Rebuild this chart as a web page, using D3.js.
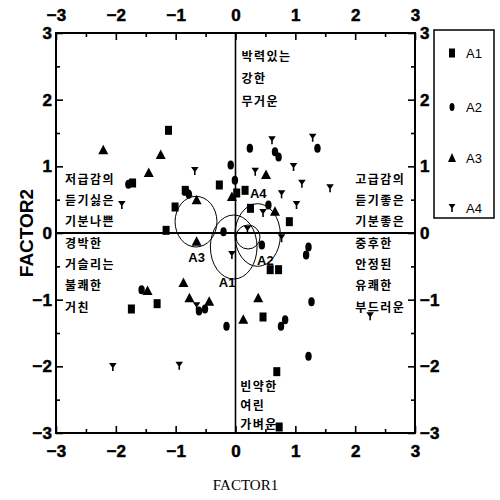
<!DOCTYPE html>
<html>
<head>
<meta charset="utf-8">
<script src="https://cdn.jsdelivr.net/npm/d3@7"></script>
<style>
  html, body { margin: 0; padding: 0; background: #fff; }
  svg { display: block; }
</style>
</head>
<body>
<script>
// Factor scores per group: [FACTOR1, FACTOR2]
const a1 = [[-1.12,1.54],[-0.84,0.64],[-1.01,0.39],[-0.27,0.72],[0.02,0.60],[-1.16,0.04],
  [0.16,0.64],[0.25,0.37],[0.90,0.17],[0.58,-0.55],[0.72,-0.55],[0.46,-1.26],[0.69,-2.08],
  [0.73,-2.91],[-1.74,-1.14],[-1.31,-1.06],[-1.72,0.75]];
const a2 = [[-1.79,0.73],[-0.08,1.02],[-0.01,0.79],[-0.20,0.02],[0.24,1.27],[0.66,1.22],
  [0.72,1.14],[1.37,1.27],[0.55,0.42],[1.22,-0.21],[1.18,-0.33],[0.44,-0.18],[1.27,-1.03],
  [0.83,-1.30],[0.76,-1.40],[1.22,-1.85],[-1.57,-0.85],[-0.61,-1.17],[-0.51,-1.14],
  [-0.15,-1.40],[-0.78,0.58]];
const a3 = [[-2.21,1.24],[-1.25,1.17],[-1.45,0.90],[-0.65,0.49],[-0.80,0.62],[-0.06,0.54],
  [0.51,0.87],[0.66,0.32],[-0.65,-0.13],[-0.87,-0.75],[-1.47,-0.87],[-0.77,-0.98],
  [-0.44,-1.03],[0.38,-0.98],[0.13,-1.30]];
const a4 = [[-0.68,0.93],[-1.90,0.42],[0.61,1.39],[1.29,1.43],[0.33,0.92],[0.97,0.99],
  [1.11,0.74],[1.58,0.67],[0.77,0.58],[1.02,0.42],[0.46,0.30],[0.77,-0.08],[2.25,-1.25],
  [-2.05,-2.01],[-0.94,-1.99],[-0.65,-1.10],[-0.06,-0.33],[0.20,0.05]];

// Group regions: centre, radii (factor units) and label anchor
const groupNames = ["A1","A2","A3","A4"];
const regionCx = [-0.03, 0.37, -0.66, 0.21];
const regionCy = [-0.21, -0.03, 0.17, -0.06];
const regionRx = [0.39, 0.38, 0.35, 0.2];
const regionRy = [0.48, 0.47, 0.38, 0.18];
const labelX = [-0.14, 0.50, -0.65, 0.38];
const labelY = [-0.74, -0.41, -0.36, 0.60];

// Adjective words for each pole
const wordsLeft = ["저급감의","듣기싫은","기분나쁜","경박한","거슬리는","불쾌한","거친"];
const wordsRight = ["고급감의","듣기좋은","기분좋은","중후한","안정된","유쾌한","부드러운"];
const wordsTop = ["박력있는","강한","무거운"];
const wordsBottom = ["빈약한","여린","가벼운"];

const tickValues = [-3,-2,-1,0,1,2,3];
const minorTicks = [-2.5,-1.5,-0.5,0.5,1.5,2.5];

const W = 500, H = 500;
const svg = d3.select("body").append("svg").attr("width", W).attr("height", H);

const x = d3.scaleLinear().domain([-3,3]).range([56,415]);
const y = d3.scaleLinear().domain([-3,3]).range([433,33]);

const axisFont = "'Liberation Sans', Arial, sans-serif";

function styleAxis(g) {
  g.select(".domain").remove();
  g.attr("font-family", null).attr("font-size", null);
  g.selectAll(".tick line").attr("stroke","#000").attr("stroke-width",1.6);
  g.selectAll("text")
    .style("font-family",axisFont).style("font-weight","900")
    .style("font-size","17px").style("fill","#000")
    .style("stroke","#000").style("stroke-width","0.5px");
}

// major ticks with labels, minor ticks without, all pointing inward
svg.append("g").attr("transform",`translate(0,${y(3)})`)
  .call(d3.axisTop(x).tickValues(tickValues).tickSize(-7).tickPadding(12).tickFormat(d3.format("d"))).call(styleAxis);
svg.append("g").attr("transform",`translate(0,${y(-3)})`)
  .call(d3.axisBottom(x).tickValues(tickValues).tickSize(-7).tickPadding(12).tickFormat(d3.format("d"))).call(styleAxis);
svg.append("g").attr("transform",`translate(${x(-3)},0)`)
  .call(d3.axisLeft(y).tickValues(tickValues).tickSize(-7).tickPadding(4).tickFormat(d3.format("d"))).call(styleAxis);
svg.append("g").attr("transform",`translate(${x(3)},0)`)
  .call(d3.axisRight(y).tickValues(tickValues).tickSize(-7).tickPadding(5).tickFormat(d3.format("d"))).call(styleAxis);

svg.append("g").attr("transform",`translate(0,${y(3)})`)
  .call(d3.axisTop(x).tickValues(minorTicks).tickSize(-4).tickFormat("")).call(styleAxis);
svg.append("g").attr("transform",`translate(0,${y(-3)})`)
  .call(d3.axisBottom(x).tickValues(minorTicks).tickSize(-4).tickFormat("")).call(styleAxis);
svg.append("g").attr("transform",`translate(${x(-3)},0)`)
  .call(d3.axisLeft(y).tickValues(minorTicks).tickSize(-4).tickFormat("")).call(styleAxis);
svg.append("g").attr("transform",`translate(${x(3)},0)`)
  .call(d3.axisRight(y).tickValues(minorTicks).tickSize(-4).tickFormat("")).call(styleAxis);

// frame
svg.append("rect").attr("x",x(-3)).attr("y",y(3))
  .attr("width",x(3)-x(-3)).attr("height",y(-3)-y(3))
  .attr("fill","none").attr("stroke","#000").attr("stroke-width",2);

// zero cross lines
svg.append("line").attr("x1",x(-3)).attr("x2",x(3)).attr("y1",y(0)).attr("y2",y(0))
  .attr("stroke","#000").attr("stroke-width",2);
svg.append("line").attr("x1",x(0)).attr("x2",x(0)).attr("y1",y(3)).attr("y2",y(-3))
  .attr("stroke","#000").attr("stroke-width",1.6);

// pole words
const wordFont = "'Noto Sans CJK KR', sans-serif";
function words(list, px, py0, step) {
  svg.append("g").selectAll("text").data(list).join("text")
    .attr("x", px).attr("y", (d,i) => py0 + i*step)
    .attr("font-family", wordFont).attr("font-size", 12).attr("font-weight","bold")
    .attr("letter-spacing", 1.5).attr("dominant-baseline","central").attr("fill","#000")
    .text(d => d);
}
words(wordsLeft, x(-2.85), y(0.82), 21.3);
words(wordsRight, x(2.0), y(0.82), 21.3);
words(wordsTop, x(0.1), y(2.67), 22.5);
words(wordsBottom, x(0.08), y(-2.28), 19);

// group regions
const regions = groupNames.map((n,i) => ({n, cx:regionCx[i], cy:regionCy[i], rx:regionRx[i], ry:regionRy[i], lx:labelX[i], ly:labelY[i]}));
svg.append("g").selectAll("ellipse").data(regions).join("ellipse")
  .attr("cx", d => x(d.cx)).attr("cy", d => y(d.cy))
  .attr("rx", d => x(d.cx + d.rx) - x(d.cx)).attr("ry", d => y(d.cy - d.ry) - y(d.cy))
  .attr("fill","none").attr("stroke","#000").attr("stroke-width",1);

// markers
function drawSquares(g, data, w, h) {
  g.selectAll("rect").data(data).join("rect")
    .attr("x", d => x(d[0]) - w/2).attr("y", d => y(d[1]) - h/2)
    .attr("width", w).attr("height", h).attr("fill","#000");
}
function drawOvals(g, data) {
  g.selectAll("ellipse").data(data).join("ellipse")
    .attr("cx", d => x(d[0])).attr("cy", d => y(d[1]))
    .attr("rx", 3.2).attr("ry", 4.5).attr("fill","#000");
}
function drawTriangles(g, data) {
  g.selectAll("path").data(data).join("path")
    .attr("d", d => { const cx = x(d[0]), cy = y(d[1]);
      return `M${cx},${cy-5.5}L${cx+5},${cy+4}L${cx-5},${cy+4}Z`; })
    .attr("fill","#000");
}
function drawDownTriangles(g, data) {
  g.selectAll("path").data(data).join("path")
    .attr("d", d => { const cx = x(d[0]), cy = y(d[1]);
      return `M${cx-3.8},${cy-4}L${cx+3.8},${cy-4}L${cx},${cy+1.5}Z M${cx-0.8},${cy}h1.6v4h-1.6Z`; })
    .attr("fill","#000");
}

drawSquares(svg.append("g"), a1, 7, 9);
drawOvals(svg.append("g"), a2);
drawTriangles(svg.append("g"), a3);
drawDownTriangles(svg.append("g"), a4);

// region labels
svg.append("g").selectAll("text").data(regions).join("text")
  .attr("x", d => x(d.lx)).attr("y", d => y(d.ly))
  .attr("text-anchor","middle").attr("dominant-baseline","central")
  .attr("font-family",axisFont).attr("font-weight","bold").attr("font-size",13)
  .text(d => d.n);

// axis titles
svg.append("text").attr("x", (x(-3)+x(3))/2 + 10).attr("y", 490)
  .attr("text-anchor","middle").attr("font-family","'Liberation Serif', 'Times New Roman', serif")
  .attr("font-size",15).text("FACTOR1");
svg.append("text").attr("transform",`translate(26,${y(0)}) rotate(-90)`)
  .attr("text-anchor","middle").attr("dominant-baseline","central")
  .attr("font-family",axisFont).attr("font-weight","bold").attr("font-size",19)
  .text("FACTOR2");

// legend
const legend = svg.append("g");
legend.append("rect").attr("x",434).attr("y",30).attr("width",60).attr("height",188)
  .attr("fill","#fff").attr("stroke","#000").attr("stroke-width",1.5);
const legendY = [53, 107, 158, 208];
const lx = 452;
legend.append("rect").attr("x",lx-3).attr("y",legendY[0]-4.5).attr("width",6).attr("height",9).attr("fill","#000");
legend.append("ellipse").attr("cx",lx).attr("cy",legendY[1]).attr("rx",2.5).attr("ry",4).attr("fill","#000");
legend.append("path").attr("d",`M${lx},${legendY[2]-5}L${lx+4},${legendY[2]+4}L${lx-4},${legendY[2]+4}Z`).attr("fill","#000");
legend.append("path").attr("d",`M${lx-3.5},${legendY[3]-4}L${lx+3.5},${legendY[3]-4}L${lx},${legendY[3]+1}Z M${lx-0.8},${legendY[3]}h1.6v4h-1.6Z`).attr("fill","#000");
legend.selectAll("text.lg").data(groupNames).join("text").attr("class","lg")
  .attr("x", 466).attr("y", (d,i) => legendY[i])
  .attr("dominant-baseline","central").attr("font-family",axisFont)
  .attr("font-size",13).text(d => d);
</script>
</body>
</html>
